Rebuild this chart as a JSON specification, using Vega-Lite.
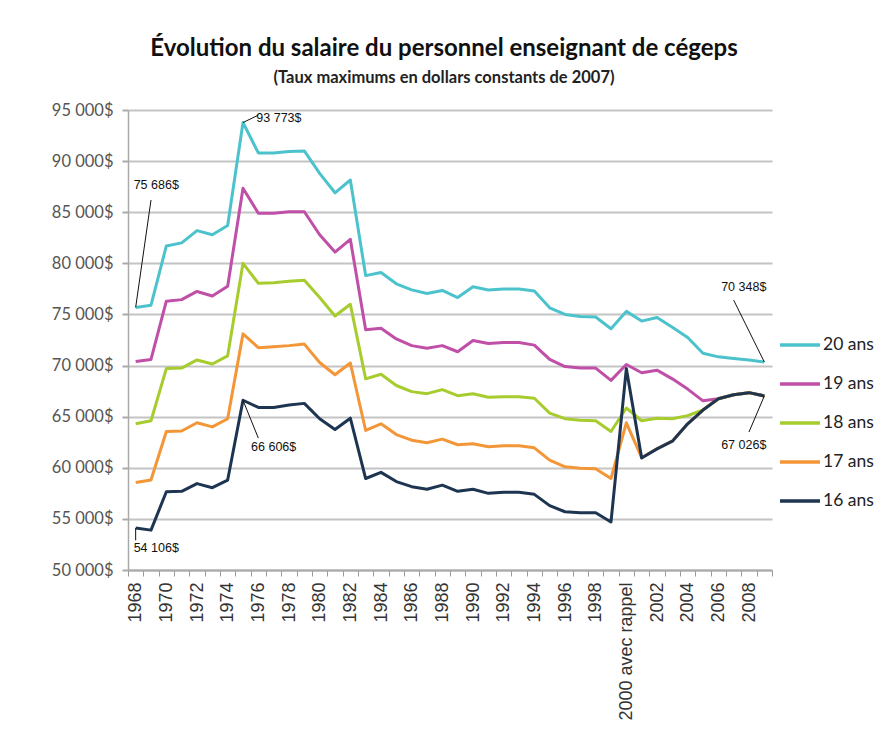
{
  "$schema": "https://vega.github.io/schema/vega-lite/v6.json",
  "width": 644,
  "height": 460,
  "autosize": {"type": "none"},
  "padding": {"left": 128, "top": 110, "right": 116, "bottom": 180},
  "background": "white",
  "title": {
    "text": "Évolution du salaire du personnel enseignant de cégeps",
    "subtitle": "(Taux maximums en dollars constants de 2007)",
    "anchor": "middle",
    "frame": "group",
    "dx": -6,
    "font": "Lato",
    "fontSize": 24,
    "fontWeight": "bold",
    "color": "#111",
    "subtitleFont": "Lato",
    "subtitleFontSize": 16.5,
    "subtitleFontWeight": "bold",
    "subtitleColor": "#222",
    "subtitlePadding": 9,
    "offset": 16
  },
  "config": {
    "view": {"stroke": null}
  },
  "datasets": {
    "salaires": [
      {"annee":"1968","serie":"20 ans","salaire":75686},{"annee":"1969","serie":"20 ans","salaire":75900},{"annee":"1970","serie":"20 ans","salaire":81700},{"annee":"1971","serie":"20 ans","salaire":82000},{"annee":"1972","serie":"20 ans","salaire":83200},{"annee":"1973","serie":"20 ans","salaire":82800},{"annee":"1974","serie":"20 ans","salaire":83700},{"annee":"1975","serie":"20 ans","salaire":93773},{"annee":"1976","serie":"20 ans","salaire":90800},{"annee":"1977","serie":"20 ans","salaire":90800},{"annee":"1978","serie":"20 ans","salaire":90950},{"annee":"1979","serie":"20 ans","salaire":91000},{"annee":"1980","serie":"20 ans","salaire":88800},{"annee":"1981","serie":"20 ans","salaire":86900},{"annee":"1982","serie":"20 ans","salaire":88150},{"annee":"1983","serie":"20 ans","salaire":78800},{"annee":"1984","serie":"20 ans","salaire":79100},{"annee":"1985","serie":"20 ans","salaire":78000},{"annee":"1986","serie":"20 ans","salaire":77400},{"annee":"1987","serie":"20 ans","salaire":77050},{"annee":"1988","serie":"20 ans","salaire":77350},{"annee":"1989","serie":"20 ans","salaire":76650},{"annee":"1990","serie":"20 ans","salaire":77700},{"annee":"1991","serie":"20 ans","salaire":77400},{"annee":"1992","serie":"20 ans","salaire":77500},{"annee":"1993","serie":"20 ans","salaire":77500},{"annee":"1994","serie":"20 ans","salaire":77300},{"annee":"1995","serie":"20 ans","salaire":75650},{"annee":"1996","serie":"20 ans","salaire":75000},{"annee":"1997","serie":"20 ans","salaire":74800},{"annee":"1998","serie":"20 ans","salaire":74750},{"annee":"1999","serie":"20 ans","salaire":73600},{"annee":"2000 avec rappel","serie":"20 ans","salaire":75300},{"annee":"2001","serie":"20 ans","salaire":74350},{"annee":"2002","serie":"20 ans","salaire":74700},{"annee":"2003","serie":"20 ans","salaire":73750},{"annee":"2004","serie":"20 ans","salaire":72750},{"annee":"2005","serie":"20 ans","salaire":71200},{"annee":"2006","serie":"20 ans","salaire":70850},{"annee":"2007","serie":"20 ans","salaire":70700},{"annee":"2008","serie":"20 ans","salaire":70550},{"annee":"2009","serie":"20 ans","salaire":70348},
      {"annee":"1968","serie":"19 ans","salaire":70400},{"annee":"1969","serie":"19 ans","salaire":70600},{"annee":"1970","serie":"19 ans","salaire":76300},{"annee":"1971","serie":"19 ans","salaire":76450},{"annee":"1972","serie":"19 ans","salaire":77250},{"annee":"1973","serie":"19 ans","salaire":76800},{"annee":"1974","serie":"19 ans","salaire":77750},{"annee":"1975","serie":"19 ans","salaire":87350},{"annee":"1976","serie":"19 ans","salaire":84900},{"annee":"1977","serie":"19 ans","salaire":84900},{"annee":"1978","serie":"19 ans","salaire":85050},{"annee":"1979","serie":"19 ans","salaire":85050},{"annee":"1980","serie":"19 ans","salaire":82800},{"annee":"1981","serie":"19 ans","salaire":81100},{"annee":"1982","serie":"19 ans","salaire":82350},{"annee":"1983","serie":"19 ans","salaire":73500},{"annee":"1984","serie":"19 ans","salaire":73650},{"annee":"1985","serie":"19 ans","salaire":72600},{"annee":"1986","serie":"19 ans","salaire":71950},{"annee":"1987","serie":"19 ans","salaire":71700},{"annee":"1988","serie":"19 ans","salaire":71950},{"annee":"1989","serie":"19 ans","salaire":71350},{"annee":"1990","serie":"19 ans","salaire":72450},{"annee":"1991","serie":"19 ans","salaire":72150},{"annee":"1992","serie":"19 ans","salaire":72250},{"annee":"1993","serie":"19 ans","salaire":72250},{"annee":"1994","serie":"19 ans","salaire":72000},{"annee":"1995","serie":"19 ans","salaire":70600},{"annee":"1996","serie":"19 ans","salaire":69900},{"annee":"1997","serie":"19 ans","salaire":69750},{"annee":"1998","serie":"19 ans","salaire":69750},{"annee":"1999","serie":"19 ans","salaire":68550},{"annee":"2000 avec rappel","serie":"19 ans","salaire":70100},{"annee":"2001","serie":"19 ans","salaire":69300},{"annee":"2002","serie":"19 ans","salaire":69550},{"annee":"2003","serie":"19 ans","salaire":68700},{"annee":"2004","serie":"19 ans","salaire":67700},{"annee":"2005","serie":"19 ans","salaire":66550},{"annee":"2006","serie":"19 ans","salaire":66750},{"annee":"2007","serie":"19 ans","salaire":67150},{"annee":"2008","serie":"19 ans","salaire":67350},{"annee":"2009","serie":"19 ans","salaire":67026},
      {"annee":"1968","serie":"18 ans","salaire":64300},{"annee":"1969","serie":"18 ans","salaire":64600},{"annee":"1970","serie":"18 ans","salaire":69700},{"annee":"1971","serie":"18 ans","salaire":69750},{"annee":"1972","serie":"18 ans","salaire":70550},{"annee":"1973","serie":"18 ans","salaire":70150},{"annee":"1974","serie":"18 ans","salaire":70950},{"annee":"1975","serie":"18 ans","salaire":80000},{"annee":"1976","serie":"18 ans","salaire":78050},{"annee":"1977","serie":"18 ans","salaire":78100},{"annee":"1978","serie":"18 ans","salaire":78250},{"annee":"1979","serie":"18 ans","salaire":78350},{"annee":"1980","serie":"18 ans","salaire":76650},{"annee":"1981","serie":"18 ans","salaire":74850},{"annee":"1982","serie":"18 ans","salaire":76000},{"annee":"1983","serie":"18 ans","salaire":68700},{"annee":"1984","serie":"18 ans","salaire":69150},{"annee":"1985","serie":"18 ans","salaire":68050},{"annee":"1986","serie":"18 ans","salaire":67450},{"annee":"1987","serie":"18 ans","salaire":67250},{"annee":"1988","serie":"18 ans","salaire":67650},{"annee":"1989","serie":"18 ans","salaire":67050},{"annee":"1990","serie":"18 ans","salaire":67250},{"annee":"1991","serie":"18 ans","salaire":66900},{"annee":"1992","serie":"18 ans","salaire":66950},{"annee":"1993","serie":"18 ans","salaire":66950},{"annee":"1994","serie":"18 ans","salaire":66800},{"annee":"1995","serie":"18 ans","salaire":65350},{"annee":"1996","serie":"18 ans","salaire":64800},{"annee":"1997","serie":"18 ans","salaire":64650},{"annee":"1998","serie":"18 ans","salaire":64600},{"annee":"1999","serie":"18 ans","salaire":63550},{"annee":"2000 avec rappel","serie":"18 ans","salaire":65850},{"annee":"2001","serie":"18 ans","salaire":64600},{"annee":"2002","serie":"18 ans","salaire":64850},{"annee":"2003","serie":"18 ans","salaire":64800},{"annee":"2004","serie":"18 ans","salaire":65100},{"annee":"2005","serie":"18 ans","salaire":65650},{"annee":"2006","serie":"18 ans","salaire":66750},{"annee":"2007","serie":"18 ans","salaire":67150},{"annee":"2008","serie":"18 ans","salaire":67350},{"annee":"2009","serie":"18 ans","salaire":67026},
      {"annee":"1968","serie":"17 ans","salaire":58550},{"annee":"1969","serie":"17 ans","salaire":58800},{"annee":"1970","serie":"17 ans","salaire":63550},{"annee":"1971","serie":"17 ans","salaire":63600},{"annee":"1972","serie":"17 ans","salaire":64400},{"annee":"1973","serie":"17 ans","salaire":64000},{"annee":"1974","serie":"17 ans","salaire":64800},{"annee":"1975","serie":"17 ans","salaire":73100},{"annee":"1976","serie":"17 ans","salaire":71750},{"annee":"1977","serie":"17 ans","salaire":71850},{"annee":"1978","serie":"17 ans","salaire":71950},{"annee":"1979","serie":"17 ans","salaire":72100},{"annee":"1980","serie":"17 ans","salaire":70300},{"annee":"1981","serie":"17 ans","salaire":69100},{"annee":"1982","serie":"17 ans","salaire":70250},{"annee":"1983","serie":"17 ans","salaire":63650},{"annee":"1984","serie":"17 ans","salaire":64300},{"annee":"1985","serie":"17 ans","salaire":63250},{"annee":"1986","serie":"17 ans","salaire":62700},{"annee":"1987","serie":"17 ans","salaire":62450},{"annee":"1988","serie":"17 ans","salaire":62800},{"annee":"1989","serie":"17 ans","salaire":62250},{"annee":"1990","serie":"17 ans","salaire":62350},{"annee":"1991","serie":"17 ans","salaire":62050},{"annee":"1992","serie":"17 ans","salaire":62150},{"annee":"1993","serie":"17 ans","salaire":62150},{"annee":"1994","serie":"17 ans","salaire":61950},{"annee":"1995","serie":"17 ans","salaire":60750},{"annee":"1996","serie":"17 ans","salaire":60100},{"annee":"1997","serie":"17 ans","salaire":59950},{"annee":"1998","serie":"17 ans","salaire":59900},{"annee":"1999","serie":"17 ans","salaire":58950},{"annee":"2000 avec rappel","serie":"17 ans","salaire":64400},{"annee":"2001","serie":"17 ans","salaire":61000},{"annee":"2002","serie":"17 ans","salaire":61850},{"annee":"2003","serie":"17 ans","salaire":62600},{"annee":"2004","serie":"17 ans","salaire":64300},{"annee":"2005","serie":"17 ans","salaire":65650},{"annee":"2006","serie":"17 ans","salaire":66750},{"annee":"2007","serie":"17 ans","salaire":67150},{"annee":"2008","serie":"17 ans","salaire":67350},{"annee":"2009","serie":"17 ans","salaire":67026},
      {"annee":"1968","serie":"16 ans","salaire":54106},{"annee":"1969","serie":"16 ans","salaire":53900},{"annee":"1970","serie":"16 ans","salaire":57650},{"annee":"1971","serie":"16 ans","salaire":57700},{"annee":"1972","serie":"16 ans","salaire":58450},{"annee":"1973","serie":"16 ans","salaire":58050},{"annee":"1974","serie":"16 ans","salaire":58800},{"annee":"1975","serie":"16 ans","salaire":66606},{"annee":"1976","serie":"16 ans","salaire":65900},{"annee":"1977","serie":"16 ans","salaire":65900},{"annee":"1978","serie":"16 ans","salaire":66150},{"annee":"1979","serie":"16 ans","salaire":66300},{"annee":"1980","serie":"16 ans","salaire":64800},{"annee":"1981","serie":"16 ans","salaire":63750},{"annee":"1982","serie":"16 ans","salaire":64850},{"annee":"1983","serie":"16 ans","salaire":58950},{"annee":"1984","serie":"16 ans","salaire":59550},{"annee":"1985","serie":"16 ans","salaire":58650},{"annee":"1986","serie":"16 ans","salaire":58150},{"annee":"1987","serie":"16 ans","salaire":57900},{"annee":"1988","serie":"16 ans","salaire":58300},{"annee":"1989","serie":"16 ans","salaire":57700},{"annee":"1990","serie":"16 ans","salaire":57900},{"annee":"1991","serie":"16 ans","salaire":57500},{"annee":"1992","serie":"16 ans","salaire":57600},{"annee":"1993","serie":"16 ans","salaire":57600},{"annee":"1994","serie":"16 ans","salaire":57400},{"annee":"1995","serie":"16 ans","salaire":56300},{"annee":"1996","serie":"16 ans","salaire":55700},{"annee":"1997","serie":"16 ans","salaire":55600},{"annee":"1998","serie":"16 ans","salaire":55600},{"annee":"1999","serie":"16 ans","salaire":54700},{"annee":"2000 avec rappel","serie":"16 ans","salaire":69700},{"annee":"2001","serie":"16 ans","salaire":60950},{"annee":"2002","serie":"16 ans","salaire":61850},{"annee":"2003","serie":"16 ans","salaire":62600},{"annee":"2004","serie":"16 ans","salaire":64300},{"annee":"2005","serie":"16 ans","salaire":65650},{"annee":"2006","serie":"16 ans","salaire":66750},{"annee":"2007","serie":"16 ans","salaire":67150},{"annee":"2008","serie":"16 ans","salaire":67350},{"annee":"2009","serie":"16 ans","salaire":67026}
    ],
    "annotations": [
      {"annee":"1968","salaire":75686,"annee2":"1969","salaire2":86200,"texte":"75 686$","annee_t":"1968","salaire_t":87700,"align":"left"},
      {"annee":"1975","salaire":93773,"annee2":"1976","salaire2":94500,"texte":"93 773$","annee_t":"1976","salaire_t":94200,"align":"left"},
      {"annee":"1975","salaire":66606,"annee2":"1976","salaire2":62900,"texte":"66 606$","annee_t":"1977","salaire_t":62050,"align":"center"},
      {"annee":"1968","salaire":54106,"annee2":"1968","salaire2":52900,"texte":"54 106$","annee_t":"1968","salaire_t":52150,"align":"left"},
      {"annee":"2009","salaire":70348,"annee2":"2007","salaire2":76400,"texte":"70 348$","annee_t":"2009","salaire_t":77700,"align":"right"},
      {"annee":"2009","salaire":67026,"annee2":"2008","salaire2":63500,"texte":"67 026$","annee_t":"2009","salaire_t":62230,"align":"right"}
    ]
  },
  "layer": [
    {
      "data": {"name": "salaires"},
      "mark": {"type": "line", "strokeWidth": 3, "strokeJoin": "round"},
      "encoding": {
        "x": {
          "field": "annee",
          "type": "nominal",
          "sort": null,
          "bandPosition": 0.5,
          "scale": {"type": "band", "paddingInner": 0, "paddingOuter": 0},
          "axis": {
            "title": null,
            "labelAngle": -90,
            "labelFont": "Liberation Sans",
            "labelFontSize": 18,
            "labelColor": "#333",
            "labelPadding": 6,
            "labelExpr": "round(datum.index*41) % 2 == 0 ? datum.label : ''",
            "tickBand": "extent",
            "tickSize": 6,
            "tickColor": "#999",
            "tickWidth": 1,
            "domainColor": "#aaa",
            "domainWidth": 2,
            "grid": false
          }
        },
        "y": {
          "field": "salaire",
          "type": "quantitative",
          "scale": {"domain": [50000, 95000], "nice": false, "zero": false},
          "axis": {
            "title": null,
            "values": [50000,55000,60000,65000,70000,75000,80000,85000,90000,95000],
            "labelExpr": "replace(format(datum.value, ','), ',', ' ') + '$'",
            "labelFont": "Lato",
            "labelFontSize": 16.5,
            "labelColor": "#555",
            "labelPadding": 9,
            "tickSize": 6,
            "tickColor": "#aaa",
            "tickWidth": 2,
            "domainColor": "#aaa",
            "domainWidth": 1.5,
            "grid": true,
            "gridColor": "#c4c4c4",
            "gridWidth": 2
          }
        },
        "color": {
          "field": "serie",
          "type": "nominal",
          "scale": {
            "domain": ["20 ans", "19 ans", "18 ans", "17 ans", "16 ans"],
            "range": ["#4cc3cc", "#c04fa8", "#a6cc2e", "#f39638", "#1d3551"]
          },
          "legend": {
            "title": null,
            "orient": "none",
            "legendX": 650,
            "legendY": 213,
            "symbolType": "stroke",
            "symbolSize": 1600,
            "symbolStrokeWidth": 3.5,
            "rowPadding": 8,
            "labelOffset": 1,
            "labelFont": "Lato",
            "labelFontSize": 17.5,
            "labelColor": "#222"
          }
        }
      }
    },
    {
      "data": {"name": "annotations"},
      "mark": {"type": "rule", "color": "#111", "strokeWidth": 1},
      "encoding": {
        "x": {"field": "annee", "type": "nominal", "bandPosition": 0.5},
        "x2": {"field": "annee2"},
        "y": {"field": "salaire", "type": "quantitative"},
        "y2": {"field": "salaire2"}
      }
    },
    {
      "data": {"name": "annotations"},
      "transform": [{"filter": "datum.align == 'left'"}],
      "mark": {"type": "text", "font": "Liberation Sans", "fontSize": 12.5, "color": "#111", "baseline": "middle", "align": "left", "dx": -2},
      "encoding": {
        "x": {"field": "annee_t", "type": "nominal", "bandPosition": 0.5},
        "y": {"field": "salaire_t", "type": "quantitative"},
        "text": {"field": "texte"}
      }
    },
    {
      "data": {"name": "annotations"},
      "transform": [{"filter": "datum.align == 'center'"}],
      "mark": {"type": "text", "font": "Liberation Sans", "fontSize": 12.5, "color": "#111", "baseline": "middle", "align": "center"},
      "encoding": {
        "x": {"field": "annee_t", "type": "nominal", "bandPosition": 0.5},
        "y": {"field": "salaire_t", "type": "quantitative"},
        "text": {"field": "texte"}
      }
    },
    {
      "data": {"name": "annotations"},
      "transform": [{"filter": "datum.align == 'right'"}],
      "mark": {"type": "text", "font": "Liberation Sans", "fontSize": 12.5, "color": "#111", "baseline": "middle", "align": "right", "dx": 2},
      "encoding": {
        "x": {"field": "annee_t", "type": "nominal", "bandPosition": 0.5},
        "y": {"field": "salaire_t", "type": "quantitative"},
        "text": {"field": "texte"}
      }
    }
  ]
}
